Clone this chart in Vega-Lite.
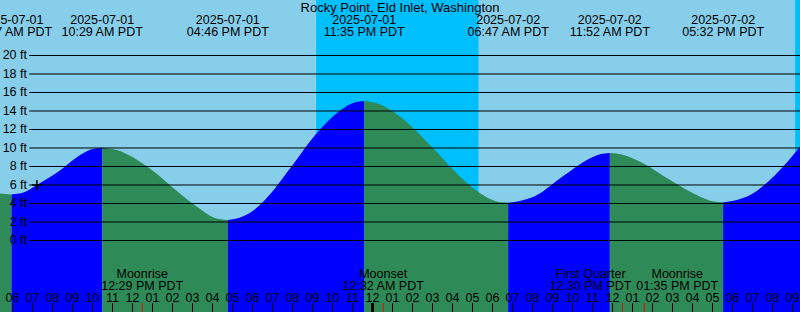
{
  "$schema": "https://vega.github.io/schema/vega-lite/v6.json",
  "width": 800,
  "height": 312,
  "autosize": {"type": "none"},
  "padding": 0,
  "background": "#87CEEB",
  "config": {"view": {"stroke": null}, "text": {"font": "Liberation Sans", "fontSize": 12.5, "color": "#000"}},
  "layer": [
    {
      "data": {"values": [
        {"s": "2025-07-01T21:11Z", "e": "2025-07-02T05:18Z"},
        {"s": "2025-07-02T21:08Z", "e": "2025-07-02T21:30Z"}
      ], "format": {"parse": {"s": "date", "e": "date"}}},
      "mark": {"type": "rect", "color": "#00BFFF", "clip": true},
      "encoding": {
        "x": {"field": "s", "type": "temporal", "axis": null, "scale": {"type": "utc", "domain": [{"year": 2025, "month": 7, "date": 1, "hours": 5, "minutes": 22, "seconds": 30, "utc": true}, {"year": 2025, "month": 7, "date": 2, "hours": 21, "minutes": 22, "seconds": 30, "utc": true}]}},
        "x2": {"field": "e"}
      }
    },
    {
      "data": {"values": [
        {"seg": 1, "phase": "falling", "t": "2025-07-01T05:20Z", "h": 5.1},
        {"seg": 1, "phase": "falling", "t": "2025-07-01T05:57Z", "h": 4.98},
        {"seg": 2, "phase": "rising", "t": "2025-07-01T05:57Z", "h": 4.98},
        {"seg": 2, "phase": "rising", "t": "2025-07-01T06:30Z", "h": 5.15},
        {"seg": 2, "phase": "rising", "t": "2025-07-01T07:13Z", "h": 6.0},
        {"seg": 2, "phase": "rising", "t": "2025-07-01T08:23Z", "h": 7.6},
        {"seg": 2, "phase": "rising", "t": "2025-07-01T09:23Z", "h": 9.25},
        {"seg": 2, "phase": "rising", "t": "2025-07-01T10:00Z", "h": 9.9},
        {"seg": 2, "phase": "rising", "t": "2025-07-01T10:29Z", "h": 10.03},
        {"seg": 3, "phase": "falling", "t": "2025-07-01T10:29Z", "h": 10.03},
        {"seg": 3, "phase": "falling", "t": "2025-07-01T11:10Z", "h": 9.8},
        {"seg": 3, "phase": "falling", "t": "2025-07-01T12:53Z", "h": 7.75},
        {"seg": 3, "phase": "falling", "t": "2025-07-01T14:23Z", "h": 5.05},
        {"seg": 3, "phase": "falling", "t": "2025-07-01T15:23Z", "h": 3.4},
        {"seg": 3, "phase": "falling", "t": "2025-07-01T16:05Z", "h": 2.47},
        {"seg": 3, "phase": "falling", "t": "2025-07-01T16:46Z", "h": 2.22},
        {"seg": 4, "phase": "rising", "t": "2025-07-01T16:46Z", "h": 2.22},
        {"seg": 4, "phase": "rising", "t": "2025-07-01T17:25Z", "h": 2.5},
        {"seg": 4, "phase": "rising", "t": "2025-07-01T17:53Z", "h": 3.0},
        {"seg": 4, "phase": "rising", "t": "2025-07-01T18:38Z", "h": 4.4},
        {"seg": 4, "phase": "rising", "t": "2025-07-01T19:53Z", "h": 7.8},
        {"seg": 4, "phase": "rising", "t": "2025-07-01T21:08Z", "h": 11.4},
        {"seg": 4, "phase": "rising", "t": "2025-07-01T22:23Z", "h": 14.05},
        {"seg": 4, "phase": "rising", "t": "2025-07-01T23:00Z", "h": 14.85},
        {"seg": 4, "phase": "rising", "t": "2025-07-01T23:35Z", "h": 15.07},
        {"seg": 5, "phase": "falling", "t": "2025-07-01T23:35Z", "h": 15.07},
        {"seg": 5, "phase": "falling", "t": "2025-07-02T00:15Z", "h": 14.8},
        {"seg": 5, "phase": "falling", "t": "2025-07-02T01:23Z", "h": 13.38},
        {"seg": 5, "phase": "falling", "t": "2025-07-02T02:53Z", "h": 10.3},
        {"seg": 5, "phase": "falling", "t": "2025-07-02T04:23Z", "h": 6.9},
        {"seg": 5, "phase": "falling", "t": "2025-07-02T05:23Z", "h": 5.1},
        {"seg": 5, "phase": "falling", "t": "2025-07-02T06:10Z", "h": 4.25},
        {"seg": 5, "phase": "falling", "t": "2025-07-02T06:47Z", "h": 4.08},
        {"seg": 6, "phase": "rising", "t": "2025-07-02T06:47Z", "h": 4.08},
        {"seg": 6, "phase": "rising", "t": "2025-07-02T07:25Z", "h": 4.3},
        {"seg": 6, "phase": "rising", "t": "2025-07-02T08:08Z", "h": 4.8},
        {"seg": 6, "phase": "rising", "t": "2025-07-02T09:23Z", "h": 6.72},
        {"seg": 6, "phase": "rising", "t": "2025-07-02T10:53Z", "h": 8.88},
        {"seg": 6, "phase": "rising", "t": "2025-07-02T11:20Z", "h": 9.3},
        {"seg": 6, "phase": "rising", "t": "2025-07-02T11:52Z", "h": 9.46},
        {"seg": 7, "phase": "falling", "t": "2025-07-02T11:52Z", "h": 9.46},
        {"seg": 7, "phase": "falling", "t": "2025-07-02T12:30Z", "h": 9.28},
        {"seg": 7, "phase": "falling", "t": "2025-07-02T13:23Z", "h": 8.52},
        {"seg": 7, "phase": "falling", "t": "2025-07-02T14:53Z", "h": 6.54},
        {"seg": 7, "phase": "falling", "t": "2025-07-02T16:23Z", "h": 4.74},
        {"seg": 7, "phase": "falling", "t": "2025-07-02T17:00Z", "h": 4.25},
        {"seg": 7, "phase": "falling", "t": "2025-07-02T17:32Z", "h": 4.13},
        {"seg": 8, "phase": "rising", "t": "2025-07-02T17:32Z", "h": 4.13},
        {"seg": 8, "phase": "rising", "t": "2025-07-02T18:10Z", "h": 4.35},
        {"seg": 8, "phase": "rising", "t": "2025-07-02T18:53Z", "h": 4.92},
        {"seg": 8, "phase": "rising", "t": "2025-07-02T20:08Z", "h": 7.08},
        {"seg": 8, "phase": "rising", "t": "2025-07-02T21:25Z", "h": 10.24}
      ], "format": {"parse": {"t": "date"}}},
      "mark": {"type": "area", "interpolate": "monotone", "clip": true, "opacity": 1, "fillOpacity": 1},
      "encoding": {
        "x": {"field": "t", "type": "temporal", "axis": null, "scale": {"type": "utc", "domain": [{"year": 2025, "month": 7, "date": 1, "hours": 5, "minutes": 22, "seconds": 30, "utc": true}, {"year": 2025, "month": 7, "date": 2, "hours": 21, "minutes": 22, "seconds": 30, "utc": true}]}},
        "y": {"field": "h", "type": "quantitative", "stack": null, "axis": null, "scale": {"domain": [-7.73, 26.0], "nice": false, "zero": false}},
        "y2": {"datum": -7.73},
        "color": {"field": "phase", "type": "nominal", "scale": {"domain": ["rising", "falling"], "range": ["#0000FF", "#2E8B57"]}, "legend": null},
        "detail": {"field": "seg"}
      }
    },
    {
      "data": {"values": [
        {"h": 0, "lab": "0 ft"}, {"h": 2, "lab": "2 ft"}, {"h": 4, "lab": "4 ft"}, {"h": 6, "lab": "6 ft"},
        {"h": 8, "lab": "8 ft"}, {"h": 10, "lab": "10 ft"}, {"h": 12, "lab": "12 ft"}, {"h": 14, "lab": "14 ft"},
        {"h": 16, "lab": "16 ft"}, {"h": 18, "lab": "18 ft"}, {"h": 20, "lab": "20 ft"}
      ]},
      "layer": [
        {
          "mark": {"type": "rule", "color": "#000", "strokeWidth": 1},
          "encoding": {
            "x": {"datum": {"year": 2025, "month": 7, "date": 1, "hours": 6, "minutes": 50, "utc": true}, "type": "temporal", "axis": null, "scale": {"type": "utc", "domain": [{"year": 2025, "month": 7, "date": 1, "hours": 5, "minutes": 22, "seconds": 30, "utc": true}, {"year": 2025, "month": 7, "date": 2, "hours": 21, "minutes": 22, "seconds": 30, "utc": true}]}},
            "x2": {"datum": {"year": 2025, "month": 7, "date": 2, "hours": 21, "minutes": 23, "utc": true}},
            "y": {"field": "h", "type": "quantitative", "axis": null, "scale": {"domain": [-7.73, 26.0], "nice": false, "zero": false}}
          }
        },
        {
          "mark": {"type": "text", "align": "right", "baseline": "middle"},
          "encoding": {
            "x": {"datum": {"year": 2025, "month": 7, "date": 1, "hours": 6, "minutes": 43, "seconds": 30, "utc": true}, "type": "temporal", "axis": null, "scale": {"type": "utc", "domain": [{"year": 2025, "month": 7, "date": 1, "hours": 5, "minutes": 22, "seconds": 30, "utc": true}, {"year": 2025, "month": 7, "date": 2, "hours": 21, "minutes": 22, "seconds": 30, "utc": true}]}},
            "y": {"field": "h", "type": "quantitative", "axis": null, "scale": {"domain": [-7.73, 26.0], "nice": false, "zero": false}},
            "text": {"field": "lab", "type": "nominal"}
          }
        }
      ]
    },
    {
      "data": {"values": [{"t": "2025-07-01T07:13Z", "h": 6.0}], "format": {"parse": {"t": "date"}}},
      "mark": {"type": "point", "shape": "M-1,0H1M0,-1V1", "size": 100, "filled": false, "color": "#000", "strokeWidth": 1.5, "opacity": 1},
      "encoding": {
        "x": {"field": "t", "type": "temporal", "axis": null, "scale": {"type": "utc", "domain": [{"year": 2025, "month": 7, "date": 1, "hours": 5, "minutes": 22, "seconds": 30, "utc": true}, {"year": 2025, "month": 7, "date": 2, "hours": 21, "minutes": 22, "seconds": 30, "utc": true}]}},
        "y": {"field": "h", "type": "quantitative", "axis": null, "scale": {"domain": [-7.73, 26.0], "nice": false, "zero": false}}
      }
    },
    {
      "data": {"values": [{"t": "2025-07-02T01:22:30Z", "title": "Rocky Point, Eld Inlet, Washington"}], "format": {"parse": {"t": "date"}}},
      "mark": {"type": "text", "align": "center", "baseline": "middle", "fontSize": 13},
      "encoding": {
        "x": {"field": "t", "type": "temporal", "axis": null, "scale": {"type": "utc", "domain": [{"year": 2025, "month": 7, "date": 1, "hours": 5, "minutes": 22, "seconds": 30, "utc": true}, {"year": 2025, "month": 7, "date": 2, "hours": 21, "minutes": 22, "seconds": 30, "utc": true}]}},
        "y": {"datum": 25.1, "type": "quantitative", "axis": null, "scale": {"domain": [-7.73, 26.0], "nice": false, "zero": false}},
        "text": {"field": "title", "type": "nominal"}
      }
    },
    {
      "data": {"values": [
        {"t": "2025-07-01T05:57Z", "date": "2025-07-01", "time": "05:57 AM PDT"},
        {"t": "2025-07-01T10:29Z", "date": "2025-07-01", "time": "10:29 AM PDT"},
        {"t": "2025-07-01T16:46Z", "date": "2025-07-01", "time": "04:46 PM PDT"},
        {"t": "2025-07-01T23:35Z", "date": "2025-07-01", "time": "11:35 PM PDT"},
        {"t": "2025-07-02T06:47Z", "date": "2025-07-02", "time": "06:47 AM PDT"},
        {"t": "2025-07-02T11:52Z", "date": "2025-07-02", "time": "11:52 AM PDT"},
        {"t": "2025-07-02T17:32Z", "date": "2025-07-02", "time": "05:32 PM PDT"}
      ], "format": {"parse": {"t": "date"}}},
      "layer": [
        {
          "mark": {"type": "text", "align": "center", "baseline": "middle"},
          "encoding": {
            "x": {"field": "t", "type": "temporal", "axis": null, "scale": {"type": "utc", "domain": [{"year": 2025, "month": 7, "date": 1, "hours": 5, "minutes": 22, "seconds": 30, "utc": true}, {"year": 2025, "month": 7, "date": 2, "hours": 21, "minutes": 22, "seconds": 30, "utc": true}]}},
            "y": {"datum": 23.85, "type": "quantitative", "axis": null, "scale": {"domain": [-7.73, 26.0], "nice": false, "zero": false}},
            "text": {"field": "date", "type": "nominal"}
          }
        },
        {
          "mark": {"type": "text", "align": "center", "baseline": "middle"},
          "encoding": {
            "x": {"field": "t", "type": "temporal", "axis": null, "scale": {"type": "utc", "domain": [{"year": 2025, "month": 7, "date": 1, "hours": 5, "minutes": 22, "seconds": 30, "utc": true}, {"year": 2025, "month": 7, "date": 2, "hours": 21, "minutes": 22, "seconds": 30, "utc": true}]}},
            "y": {"datum": 22.5, "type": "quantitative", "axis": null, "scale": {"domain": [-7.73, 26.0], "nice": false, "zero": false}},
            "text": {"field": "time", "type": "nominal"}
          }
        }
      ]
    },
    {
      "data": {"values": [
        {"t": "2025-07-01T06:00Z", "lab": "06"}, {"t": "2025-07-01T07:00Z", "lab": "07"}, {"t": "2025-07-01T08:00Z", "lab": "08"},
        {"t": "2025-07-01T09:00Z", "lab": "09"}, {"t": "2025-07-01T10:00Z", "lab": "10"}, {"t": "2025-07-01T11:00Z", "lab": "11"},
        {"t": "2025-07-01T12:00Z", "lab": "12"}, {"t": "2025-07-01T13:00Z", "lab": "01"}, {"t": "2025-07-01T14:00Z", "lab": "02"},
        {"t": "2025-07-01T15:00Z", "lab": "03"}, {"t": "2025-07-01T16:00Z", "lab": "04"}, {"t": "2025-07-01T17:00Z", "lab": "05"},
        {"t": "2025-07-01T18:00Z", "lab": "06"}, {"t": "2025-07-01T19:00Z", "lab": "07"}, {"t": "2025-07-01T20:00Z", "lab": "08"},
        {"t": "2025-07-01T21:00Z", "lab": "09"}, {"t": "2025-07-01T22:00Z", "lab": "10"}, {"t": "2025-07-01T23:00Z", "lab": "11"},
        {"t": "2025-07-02T00:00Z", "lab": "12"}, {"t": "2025-07-02T01:00Z", "lab": "01"}, {"t": "2025-07-02T02:00Z", "lab": "02"},
        {"t": "2025-07-02T03:00Z", "lab": "03"}, {"t": "2025-07-02T04:00Z", "lab": "04"}, {"t": "2025-07-02T05:00Z", "lab": "05"},
        {"t": "2025-07-02T06:00Z", "lab": "06"}, {"t": "2025-07-02T07:00Z", "lab": "07"}, {"t": "2025-07-02T08:00Z", "lab": "08"},
        {"t": "2025-07-02T09:00Z", "lab": "09"}, {"t": "2025-07-02T10:00Z", "lab": "10"}, {"t": "2025-07-02T11:00Z", "lab": "11"},
        {"t": "2025-07-02T12:00Z", "lab": "12"}, {"t": "2025-07-02T13:00Z", "lab": "01"}, {"t": "2025-07-02T14:00Z", "lab": "02"},
        {"t": "2025-07-02T15:00Z", "lab": "03"}, {"t": "2025-07-02T16:00Z", "lab": "04"}, {"t": "2025-07-02T17:00Z", "lab": "05"},
        {"t": "2025-07-02T18:00Z", "lab": "06"}, {"t": "2025-07-02T19:00Z", "lab": "07"}, {"t": "2025-07-02T20:00Z", "lab": "08"},
        {"t": "2025-07-02T21:00Z", "lab": "09"}
      ], "format": {"parse": {"t": "date"}}},
      "layer": [
        {
          "mark": {"type": "rule", "color": "#000"},
          "encoding": {
            "x": {"field": "t", "type": "temporal", "axis": null, "scale": {"type": "utc", "domain": [{"year": 2025, "month": 7, "date": 1, "hours": 5, "minutes": 22, "seconds": 30, "utc": true}, {"year": 2025, "month": 7, "date": 2, "hours": 21, "minutes": 22, "seconds": 30, "utc": true}]}},
            "y": {"datum": -6.76, "type": "quantitative", "axis": null, "scale": {"domain": [-7.73, 26.0], "nice": false, "zero": false}},
            "y2": {"datum": -7.73},
            "strokeWidth": {"condition": {"test": "utchours(datum.t) === 0", "value": 3}, "value": 1}
          }
        },
        {
          "mark": {"type": "text", "align": "center", "baseline": "middle"},
          "encoding": {
            "x": {"field": "t", "type": "temporal", "axis": null, "scale": {"type": "utc", "domain": [{"year": 2025, "month": 7, "date": 1, "hours": 5, "minutes": 22, "seconds": 30, "utc": true}, {"year": 2025, "month": 7, "date": 2, "hours": 21, "minutes": 22, "seconds": 30, "utc": true}]}},
            "y": {"datum": -6.2, "type": "quantitative", "axis": null, "scale": {"domain": [-7.73, 26.0], "nice": false, "zero": false}},
            "text": {"field": "lab", "type": "nominal"}
          }
        }
      ]
    },
    {
      "data": {"values": [
        {"t": "2025-07-01T12:29Z", "name": "Moonrise", "time": "12:29 PM PDT"},
        {"t": "2025-07-02T00:32Z", "name": "Moonset", "time": "12:32 AM PDT"},
        {"t": "2025-07-02T12:30Z", "name": "First Quarter", "time": "12:30 PM PDT"},
        {"t": "2025-07-02T13:35Z", "name": "Moonrise", "time": "01:35 PM PDT"}
      ], "format": {"parse": {"t": "date"}}},
      "layer": [
        {
          "mark": {"type": "rule", "color": "#FF0000", "strokeWidth": 1},
          "encoding": {
            "x": {"field": "t", "type": "temporal", "axis": null, "scale": {"type": "utc", "domain": [{"year": 2025, "month": 7, "date": 1, "hours": 5, "minutes": 22, "seconds": 30, "utc": true}, {"year": 2025, "month": 7, "date": 2, "hours": 21, "minutes": 22, "seconds": 30, "utc": true}]}},
            "y": {"datum": -6.76, "type": "quantitative", "axis": null, "scale": {"domain": [-7.73, 26.0], "nice": false, "zero": false}},
            "y2": {"datum": -7.73}
          }
        },
        {
          "transform": [{"filter": "datum.time !== '12:30 PM PDT' && datum.time !== '01:35 PM PDT'"}],
          "layer": [
            {"mark": {"type": "text", "align": "center", "baseline": "middle"},
             "encoding": {
               "x": {"field": "t", "type": "temporal", "axis": null, "scale": {"type": "utc", "domain": [{"year": 2025, "month": 7, "date": 1, "hours": 5, "minutes": 22, "seconds": 30, "utc": true}, {"year": 2025, "month": 7, "date": 2, "hours": 21, "minutes": 22, "seconds": 30, "utc": true}]}},
               "y": {"datum": -3.62, "type": "quantitative", "axis": null, "scale": {"domain": [-7.73, 26.0], "nice": false, "zero": false}},
               "text": {"field": "name", "type": "nominal"}}},
            {"mark": {"type": "text", "align": "center", "baseline": "middle"},
             "encoding": {
               "x": {"field": "t", "type": "temporal", "axis": null, "scale": {"type": "utc", "domain": [{"year": 2025, "month": 7, "date": 1, "hours": 5, "minutes": 22, "seconds": 30, "utc": true}, {"year": 2025, "month": 7, "date": 2, "hours": 21, "minutes": 22, "seconds": 30, "utc": true}]}},
               "y": {"datum": -4.89, "type": "quantitative", "axis": null, "scale": {"domain": [-7.73, 26.0], "nice": false, "zero": false}},
               "text": {"field": "time", "type": "nominal"}}}
          ]
        },
        {
          "transform": [{"filter": "datum.time === '12:30 PM PDT'"}],
          "layer": [
            {"mark": {"type": "text", "align": "center", "baseline": "middle", "dx": -32},
             "encoding": {
               "x": {"field": "t", "type": "temporal", "axis": null, "scale": {"type": "utc", "domain": [{"year": 2025, "month": 7, "date": 1, "hours": 5, "minutes": 22, "seconds": 30, "utc": true}, {"year": 2025, "month": 7, "date": 2, "hours": 21, "minutes": 22, "seconds": 30, "utc": true}]}},
               "y": {"datum": -3.62, "type": "quantitative", "axis": null, "scale": {"domain": [-7.73, 26.0], "nice": false, "zero": false}},
               "text": {"field": "name", "type": "nominal"}}},
            {"mark": {"type": "text", "align": "center", "baseline": "middle", "dx": -32},
             "encoding": {
               "x": {"field": "t", "type": "temporal", "axis": null, "scale": {"type": "utc", "domain": [{"year": 2025, "month": 7, "date": 1, "hours": 5, "minutes": 22, "seconds": 30, "utc": true}, {"year": 2025, "month": 7, "date": 2, "hours": 21, "minutes": 22, "seconds": 30, "utc": true}]}},
               "y": {"datum": -4.89, "type": "quantitative", "axis": null, "scale": {"domain": [-7.73, 26.0], "nice": false, "zero": false}},
               "text": {"field": "time", "type": "nominal"}}}
          ]
        },
        {
          "transform": [{"filter": "datum.time === '01:35 PM PDT'"}],
          "layer": [
            {"mark": {"type": "text", "align": "center", "baseline": "middle", "dx": 33},
             "encoding": {
               "x": {"field": "t", "type": "temporal", "axis": null, "scale": {"type": "utc", "domain": [{"year": 2025, "month": 7, "date": 1, "hours": 5, "minutes": 22, "seconds": 30, "utc": true}, {"year": 2025, "month": 7, "date": 2, "hours": 21, "minutes": 22, "seconds": 30, "utc": true}]}},
               "y": {"datum": -3.62, "type": "quantitative", "axis": null, "scale": {"domain": [-7.73, 26.0], "nice": false, "zero": false}},
               "text": {"field": "name", "type": "nominal"}}},
            {"mark": {"type": "text", "align": "center", "baseline": "middle", "dx": 33},
             "encoding": {
               "x": {"field": "t", "type": "temporal", "axis": null, "scale": {"type": "utc", "domain": [{"year": 2025, "month": 7, "date": 1, "hours": 5, "minutes": 22, "seconds": 30, "utc": true}, {"year": 2025, "month": 7, "date": 2, "hours": 21, "minutes": 22, "seconds": 30, "utc": true}]}},
               "y": {"datum": -4.89, "type": "quantitative", "axis": null, "scale": {"domain": [-7.73, 26.0], "nice": false, "zero": false}},
               "text": {"field": "time", "type": "nominal"}}}
          ]
        }
      ]
    }
  ]
}
